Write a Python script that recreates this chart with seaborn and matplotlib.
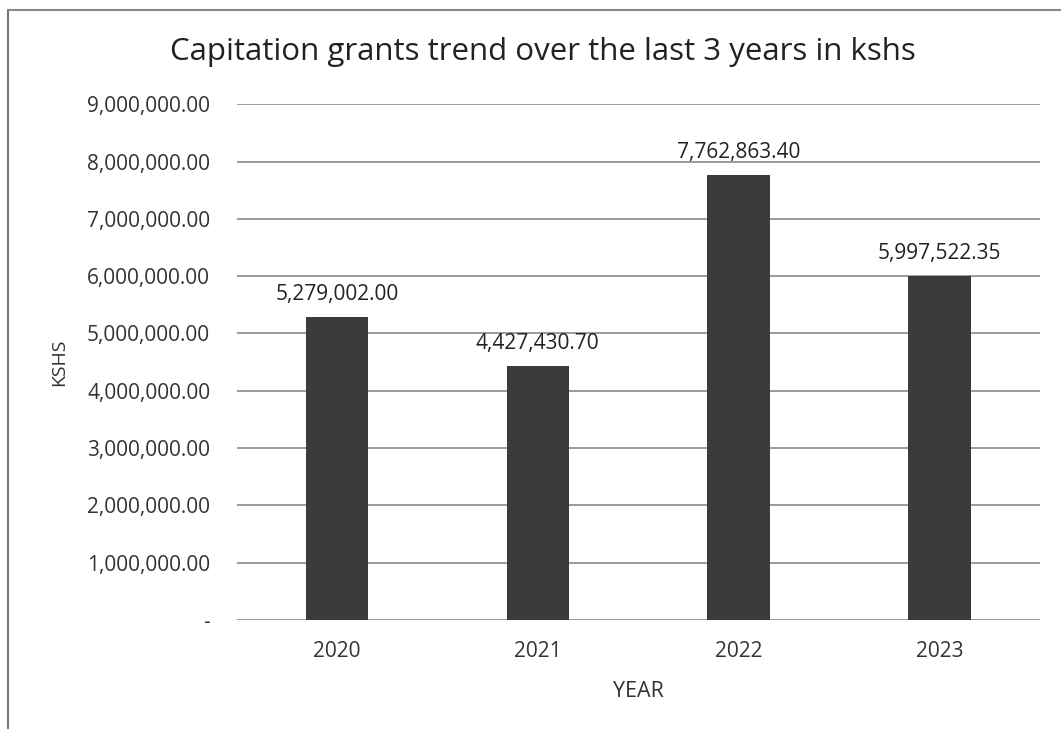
import matplotlib
matplotlib.use("Agg")
import matplotlib.pyplot as plt
import seaborn as sns
import pandas as pd
from matplotlib.ticker import FuncFormatter

years = ["2020", "2021", "2022", "2023"]
grants = [5279002.00, 4427430.70, 7762863.40, 5997522.35]
yticks = [0, 1000000, 2000000, 3000000, 4000000, 5000000, 6000000, 7000000, 8000000, 9000000]

df = pd.DataFrame({"Year": years, "KSHS": grants})

sns.set_style("white")
plt.rcParams['font.family'] = ['Open Sans', 'DejaVu Sans']

fig = plt.figure(figsize=(10.61, 7.29), dpi=100)
ax = fig.add_axes([0.223, 0.1495, 0.757, 0.7075])

sns.barplot(data=df, x="Year", y="KSHS", color="#3b3b3d", width=0.31,
            saturation=1, linewidth=0, ax=ax, zorder=3)

for i, v in enumerate(grants):
    ax.text(i, v + 220000, f"{v:,.2f}", ha="center", va="bottom",
            fontsize=15, color="#222222")

ax.set_ylim(0, 9000000)
ax.set_xlim(-0.5, 3.5)
ax.set_yticks(yticks)
ax.yaxis.set_major_formatter(FuncFormatter(lambda v, p: "-" if v == 0 else f"{v:,.2f}"))
ax.grid(axis="y", color="#8a8a8a", linewidth=1.2, zorder=0)
ax.tick_params(axis="y", length=0, labelsize=15, colors="#333333", pad=19)
ax.tick_params(axis="x", length=0, labelsize=15, colors="#333333", pad=15)
for s in ax.spines.values():
    s.set_visible(False)

ax.set_xlabel("YEAR", fontsize=15.5, color="#333333")
ax.xaxis.set_label_coords(0.5, -0.118)
ax.set_ylabel("KSHS", fontsize=14, color="#333333")
ax.yaxis.set_label_coords(-0.21, 0.5)

fig.suptitle("Capitation grants trend over the last 3 years in kshs",
             x=0.512, y=0.929, va="center", fontsize=22.5, color="#222222")

# scanned page frame
fig.add_artist(plt.Line2D([0.008, 0.008], [0.0, 0.986], color="#777777", lw=1.5))
fig.add_artist(plt.Line2D([0.008, 1.0], [0.986, 0.986], color="#888888", lw=1.5))

fig.savefig("out.png", dpi=100, facecolor="white")
